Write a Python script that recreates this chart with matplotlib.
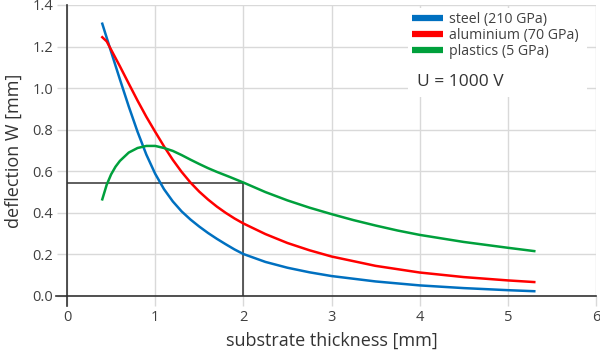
import matplotlib
matplotlib.use("Agg")
import matplotlib.pyplot as plt
from matplotlib.lines import Line2D
from matplotlib.patches import Rectangle

plt.rcParams['font.family'] = ['Open Sans', 'DejaVu Sans']

# substrate thickness [mm] vs deflection [mm]
steel_x = [0.4, 0.5, 0.6, 0.7, 0.8, 0.9, 1.0, 1.1, 1.2, 1.3, 1.4, 1.5, 1.6, 1.7,
           1.8, 1.9, 2.0, 2.25, 2.5, 2.75, 3.0, 3.5, 4.0, 4.5, 5.0, 5.3]
steel_y = [1.31, 1.175, 1.042, 0.912, 0.79, 0.68, 0.588, 0.514, 0.455, 0.407,
           0.368, 0.334, 0.303, 0.275, 0.249, 0.224, 0.202, 0.164, 0.136, 0.114,
           0.096, 0.07, 0.051, 0.038, 0.028, 0.023]

alu_x = [0.4, 0.45, 0.5, 0.6, 0.7, 0.8, 0.9, 1.0, 1.1, 1.2, 1.3, 1.4, 1.5, 1.6,
         1.7, 1.8, 1.9, 2.0, 2.25, 2.5, 2.75, 3.0, 3.5, 4.0, 4.5, 5.0, 5.3]
alu_y = [1.245, 1.225, 1.185, 1.105, 1.022, 0.94, 0.862, 0.79, 0.72, 0.655, 0.597,
         0.546, 0.502, 0.464, 0.43, 0.40, 0.373, 0.349, 0.298, 0.255, 0.22, 0.19,
         0.145, 0.113, 0.091, 0.075, 0.067]

plast_x = [0.4, 0.45, 0.5, 0.55, 0.6, 0.7, 0.8, 0.9, 1.0, 1.1, 1.2, 1.3, 1.4, 1.5,
           1.6, 1.7, 1.85, 2.0, 2.25, 2.5, 2.75, 3.0, 3.25, 3.5, 3.75, 4.0, 4.5,
           5.0, 5.3]
plast_y = [0.465, 0.535, 0.585, 0.622, 0.65, 0.69, 0.712, 0.722, 0.722, 0.712,
           0.698, 0.678, 0.656, 0.635, 0.615, 0.597, 0.572, 0.546, 0.50, 0.46,
           0.425, 0.394, 0.365, 0.339, 0.315, 0.294, 0.26, 0.232, 0.216]

labels = ['steel (210 GPa)', 'aluminium (70 GPa)', 'plastics (5 GPa)']
colors = ['#0070C0', '#FF0000', '#00A03C']

# marked working point
mark_x = 2.0
mark_y = 0.545

fig = plt.figure(figsize=(6.0, 3.52), dpi=100)
ax = fig.add_axes([0.1117, 0.1591, 0.8816, 0.8267])

ax.set_xlim(0, 6)
ax.set_ylim(0, 1.4)
ax.set_xticks(range(0, 7))
ax.set_yticks([0.0, 0.2, 0.4, 0.6, 0.8, 1.0, 1.2, 1.4])
ax.yaxis.set_major_formatter(matplotlib.ticker.FormatStrFormatter('%.1f'))
ax.grid(True, color='#d9d9d9', lw=1.0, zorder=0)
ax.set_axisbelow(True)
for s in ['top', 'right']:
    ax.spines[s].set_visible(False)
for s in ['left', 'bottom']:
    ax.spines[s].set_color('#333333')
    ax.spines[s].set_linewidth(1.2)
ax.tick_params(axis='both', length=7, width=1, color='#d9d9d9',
               labelsize=10.5, labelcolor='#404040', pad=3)

# dark tick extensions at the origin
ax.plot([0, 0], [0, -0.05], color='#333333', lw=1.2, clip_on=False, zorder=5)
ax.plot([0, -0.12], [0, 0], color='#333333', lw=1.2, clip_on=False, zorder=5)

ax.plot([0, mark_x, mark_x], [mark_y, mark_y, 0], color='#333333', lw=1.1, zorder=2)

for xs, ys, c in zip([steel_x, alu_x, plast_x], [steel_y, alu_y, plast_y], colors):
    ax.plot(xs, ys, color=c, lw=1.8, zorder=3, solid_joinstyle='round')

# white box behind legend
ax.add_patch(Rectangle((0.645, 0.684), 0.338, 0.306, transform=ax.transAxes,
                       facecolor='white', edgecolor='none', zorder=1))

handles = [Line2D([], [], color=c, lw=4.5, solid_capstyle='butt') for c in colors]
ax.legend(handles, labels, loc='upper left', bbox_to_anchor=(0.652, 0.975),
          frameon=False, fontsize=10.2, handlelength=2.2, handletextpad=0.45,
          labelspacing=0.05, borderpad=0, borderaxespad=0, labelcolor='#404040')

ax.text(0.661, 0.736, 'U = 1000 V', transform=ax.transAxes, fontsize=12.5,
        color='#333333', va='center', ha='left', zorder=4)

ax.set_xlabel('substrate thickness [mm]', fontsize=13, color='#333333', labelpad=5)
ax.set_ylabel('deflection W [mm]', fontsize=13, color='#333333', labelpad=7)

fig.savefig('out.png', dpi=100)
